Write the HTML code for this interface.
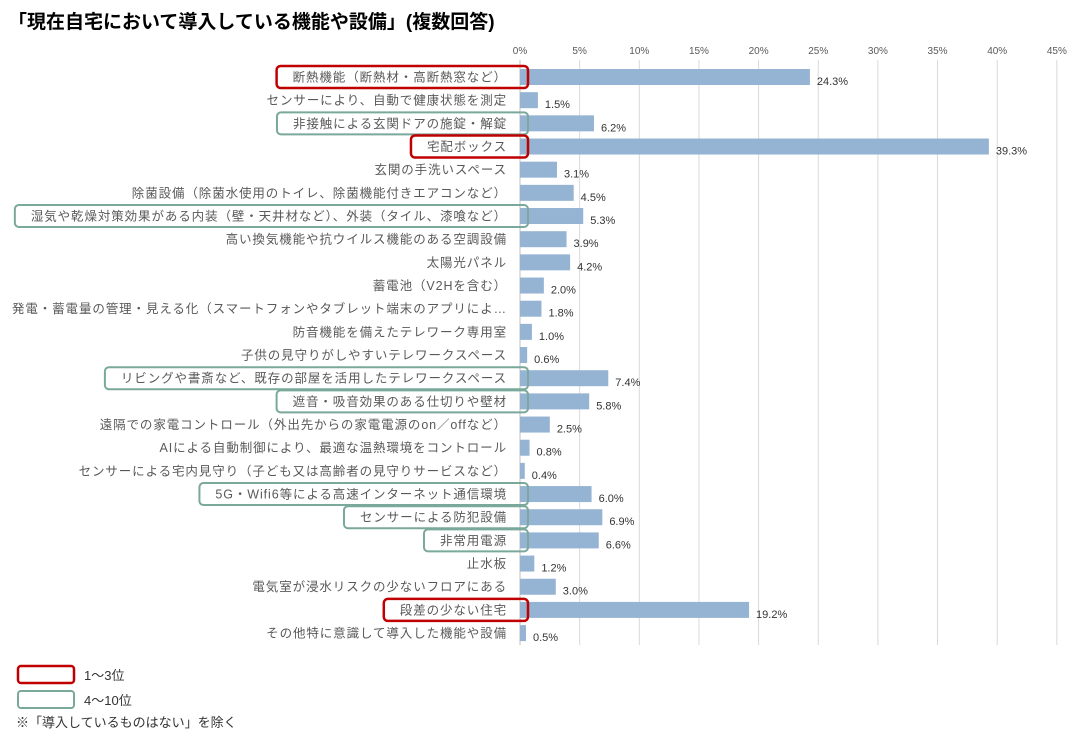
<!DOCTYPE html>
<html><head><meta charset="utf-8">
<style>
body{margin:0;background:#fff;width:1080px;height:740px;overflow:hidden;font-family:"Liberation Sans","Noto Sans CJK JP",sans-serif;}
svg text{font-family:"Liberation Sans","Noto Sans CJK JP",sans-serif;}
</style></head>
<body>
<svg id="chart" width="1080" height="740" xmlns="http://www.w3.org/2000/svg">
<text x="8" y="28" font-size="19" font-weight="bold" fill="#000">「現在自宅において導入している機能や設備」(複数回答)</text>
<g id="grid"></g><g id="bars"></g><g id="labels"></g><g id="boxes"></g>
<g>
<rect x="18" y="666" width="56" height="17" rx="3" fill="none" stroke="#c00000" stroke-width="2.5"/>
<text x="84" y="680" font-size="13" fill="#333">1～3位</text>
<rect x="18" y="691" width="56" height="17" rx="3" fill="none" stroke="#7aa89a" stroke-width="2"/>
<text x="84" y="705" font-size="13" fill="#333">4～10位</text>
<text x="16" y="727" font-size="13" fill="#333">※「導入しているものはない」を除く</text>
</g>
</svg>
<script>
const categories=["断熱機能（断熱材・高断熱窓など）","センサーにより、自動で健康状態を測定","非接触による玄関ドアの施錠・解錠","宅配ボックス","玄関の手洗いスペース","除菌設備（除菌水使用のトイレ、除菌機能付きエアコンなど）","湿気や乾燥対策効果がある内装（壁・天井材など）、外装（タイル、漆喰など）","高い換気機能や抗ウイルス機能のある空調設備","太陽光パネル","蓄電池（V2Hを含む）","発電・蓄電量の管理・見える化（スマートフォンやタブレット端末のアプリによ…","防音機能を備えたテレワーク専用室","子供の見守りがしやすいテレワークスペース","リビングや書斎など、既存の部屋を活用したテレワークスペース","遮音・吸音効果のある仕切りや壁材","遠隔での家電コントロール（外出先からの家電電源のon／offなど）","AIによる自動制御により、最適な温熱環境をコントロール","センサーによる宅内見守り（子ども又は高齢者の見守りサービスなど）","5G・Wifi6等による高速インターネット通信環境","センサーによる防犯設備","非常用電源","止水板","電気室が浸水リスクの少ないフロアにある","段差の少ない住宅","その他特に意識して導入した機能や設備"];
const values=[24.3,1.5,6.2,39.3,3.1,4.5,5.3,3.9,4.2,2.0,1.8,1.0,0.6,7.4,5.8,2.5,0.8,0.4,6.0,6.9,6.6,1.2,3.0,19.2,0.5];
const ticks=[0,5,10,15,20,25,30,35,40,45];
const top3=[0,3,23];
const top10=[2,6,13,14,18,19,20];
const NS="http://www.w3.org/2000/svg";
const x0=520,pxPer=11.93,y0=77,step=23.17,bh=16;
const xs=v=>x0+v*pxPer, ys=i=>y0+i*step;
function mk(t,a,p){const e=document.createElementNS(NS,t);for(const k in a)e.setAttribute(k,a[k]);p.appendChild(e);return e;}
const grid=document.getElementById('grid'),bars=document.getElementById('bars'),labels=document.getElementById('labels'),boxes=document.getElementById('boxes');
ticks.forEach(t=>{
 const l=mk('line',{x1:xs(t),x2:xs(t),y1:60,y2:645,stroke:t===0?'#bfbfbf':'#d9d9d9','stroke-width':1},grid);
 
 
 const tx=mk('text',{x:xs(t),y:54,'font-size':10,fill:'#595959','text-anchor':'middle'},grid);
 tx.textContent=t+'%';
 
 
});
categories.forEach((c,i)=>{
 const y=ys(i);
 const t=mk('text',{x:507,y:y+4.5,'font-size':12.5,fill:'#595959','text-anchor':'end','letter-spacing':'0.9'},labels);
 t.textContent=c;
 
 
 const r=mk('rect',{x:x0,y:y-bh/2,width:Math.max(values[i]*pxPer,0),height:bh,fill:'#95b3d3'},bars);
 
 
 const v=mk('text',{x:xs(values[i])+7,y:y+8,'font-size':11,fill:'#333'},bars);
 v.textContent=values[i].toFixed(1)+'%';
 
 
 const isTop3=top3.includes(i), isTop10=top10.includes(i);
 if(isTop3||isTop10){
  const len=t.getComputedTextLength();
  const left=507-len-16;
  const b=mk('rect',{x:left,y:y-11,width:528-left,height:22,rx:4,fill:'none',stroke:isTop3?'#c00000':'#7aa89a','stroke-width':isTop3?2.5:2},boxes);
  
  
 }
});
</script>
</body></html>
